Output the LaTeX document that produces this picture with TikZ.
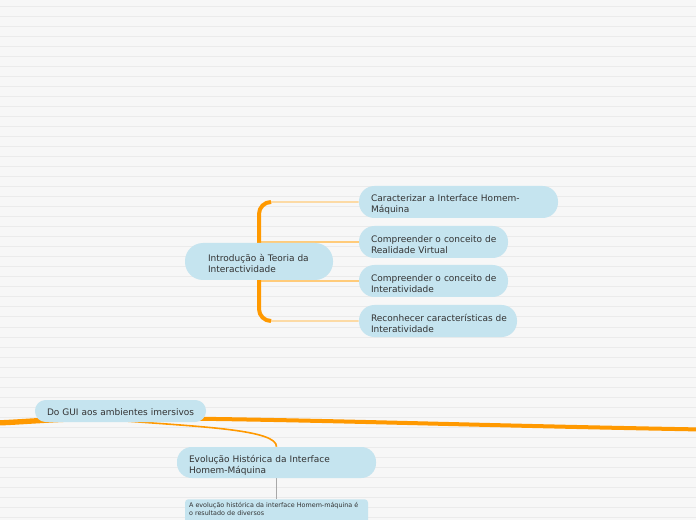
\documentclass[tikz,border=0pt]{standalone}
\usepackage{fontspec}
\setmainfont{DejaVu Sans}
\usetikzlibrary{calc}
\definecolor{bgc}{HTML}{F7F7F7}
\definecolor{gridl}{HTML}{EBEBEB}
\definecolor{pillc}{HTML}{C5E4EF}
\definecolor{orng}{HTML}{FF9900}
\definecolor{orngl}{HTML}{FFCB7A}
\definecolor{txt}{HTML}{333333}
\definecolor{grayc}{HTML}{A8A8A8}
\pgfdeclarelayer{bgl}
\pgfdeclarelayer{edges}
\pgfsetlayers{bgl,edges,main}
\newcommand\tstrut{\rule{0pt}{9pt}}
\newcommand\sstrut{\rule{0pt}{7pt}}
\begin{document}
\begin{tikzpicture}[x=0.75pt,y=-0.75pt,
  pill/.style={fill=pillc, text=txt, align=left, inner ysep=0pt,
    font=\fontsize{6.75}{8.25}\selectfont},
  notebox/.style={fill=pillc, text=txt, align=left, inner ysep=2pt, inner xsep=3pt,
    rounded corners=2.5pt, text width=131.25pt, anchor=north,
    font=\fontsize{4.8}{6}\selectfont},
  mainline/.style={orng, line cap=round},
  thinbr/.style={orngl, line width=0.8pt},
  thickbr/.style={orng, line width=3pt, rounded corners=9pt},
  subline/.style={orng, line width=1.2pt},
  grayline/.style={grayc, line width=1.2pt}
]
\useasboundingbox (0,0) rectangle (696,520);
\clip (0,0) rectangle (696,520);

\begin{pgfonlayer}{bgl}
  \fill[bgc] (0,0) rectangle (696,520);
  \foreach \yy in {7,17,...,517} \draw[gridl, line width=0.75pt] (0,\yy) -- (696,\yy);
\end{pgfonlayer}

% nodes
\node[pill, minimum width=111pt, minimum height=27.75pt, text width=76.5pt, inner xsep=17.25pt, rounded corners=13.5pt]
  (intro) at (259,261.5) {\mbox{\tstrut Introdução à Teoria da}\\\mbox{Interactividade}};
\node[pill, minimum width=149.25pt, minimum height=24pt, text width=131.25pt, inner xsep=9pt, rounded corners=11.5pt]
  (c1) at (458.5,202) {\mbox{\tstrut Caracterizar a Interface Homem-}\\\mbox{Máquina}};
\node[pill, minimum width=111.75pt, minimum height=24pt, text width=93.75pt, inner xsep=9pt, rounded corners=11.5pt]
  (c2) at (433.5,242) {\mbox{\tstrut Compreender o conceito de}\\\mbox{Realidade Virtual}};
\node[pill, minimum width=111.75pt, minimum height=24pt, text width=93.75pt, inner xsep=9pt, rounded corners=11.5pt]
  (c3) at (433.5,281) {\mbox{\tstrut Compreender o conceito de}\\\mbox{Interatividade}};
\node[pill, minimum width=118.5pt, minimum height=24pt, text width=100.5pt, inner xsep=9pt, rounded corners=11.5pt]
  (c4) at (438,321) {\mbox{\tstrut Reconhecer características de}\\\mbox{Interatividade}};
\node[pill, minimum width=128.25pt, minimum height=16.5pt, text width=110.25pt, inner xsep=9pt, rounded corners=8pt]
  (dogui) at (120.5,411) {\mbox{\sstrut Do GUI aos ambientes imersivos}};
\node[pill, minimum width=149.25pt, minimum height=23.25pt, text width=131.25pt, inner xsep=9pt, rounded corners=11pt]
  (evol) at (276.5,462.5) {\mbox{\tstrut Evolução Histórica da Interface}\\\mbox{Homem-Máquina}};
\node[notebox] (tbox) at (276.5,499)
  {\mbox{A evolução histórica da interface Homem-máquina é}\\\mbox{o resultado de diversos}\\\mbox{}\\\mbox{}};

\coordinate (leftend) at (-6,423);
\coordinate (rightend) at (702,429.5);
\coordinate (hub) at ($(dogui.center)+(0,7)$);

\begin{pgfonlayer}{edges}
  % bracket of the upper group
  \draw[thinbr, rounded corners=9pt] (c1.west) -| (intro.center |- c4.west) -- (c4.west);
  \draw[thinbr] (intro.center |- c2.west) -- (c2.west);
  \draw[thinbr] (intro.center |- c3.west) -- (c3.west);
  \draw[thickbr] ($(intro.center |- c1.west)+(12,0)$) -| (intro.center |- c4.west) -- ++(12,0);
  % main line
  \draw[mainline, line width=4pt] (leftend) .. controls (20,422.5) and (60,418) .. (hub);
  \draw[mainline, line width=3pt] (hub) .. controls (300,419) and (450,425) .. (rightend);
  % branch to Evolução
  \draw[subline] ($(hub)+(5,3)$) .. controls (205,427) and (277,430) .. (evol.north);
  % to note
  \draw[grayline] (evol.south) -- (tbox.north);
\end{pgfonlayer}
\end{tikzpicture}
\end{document}
